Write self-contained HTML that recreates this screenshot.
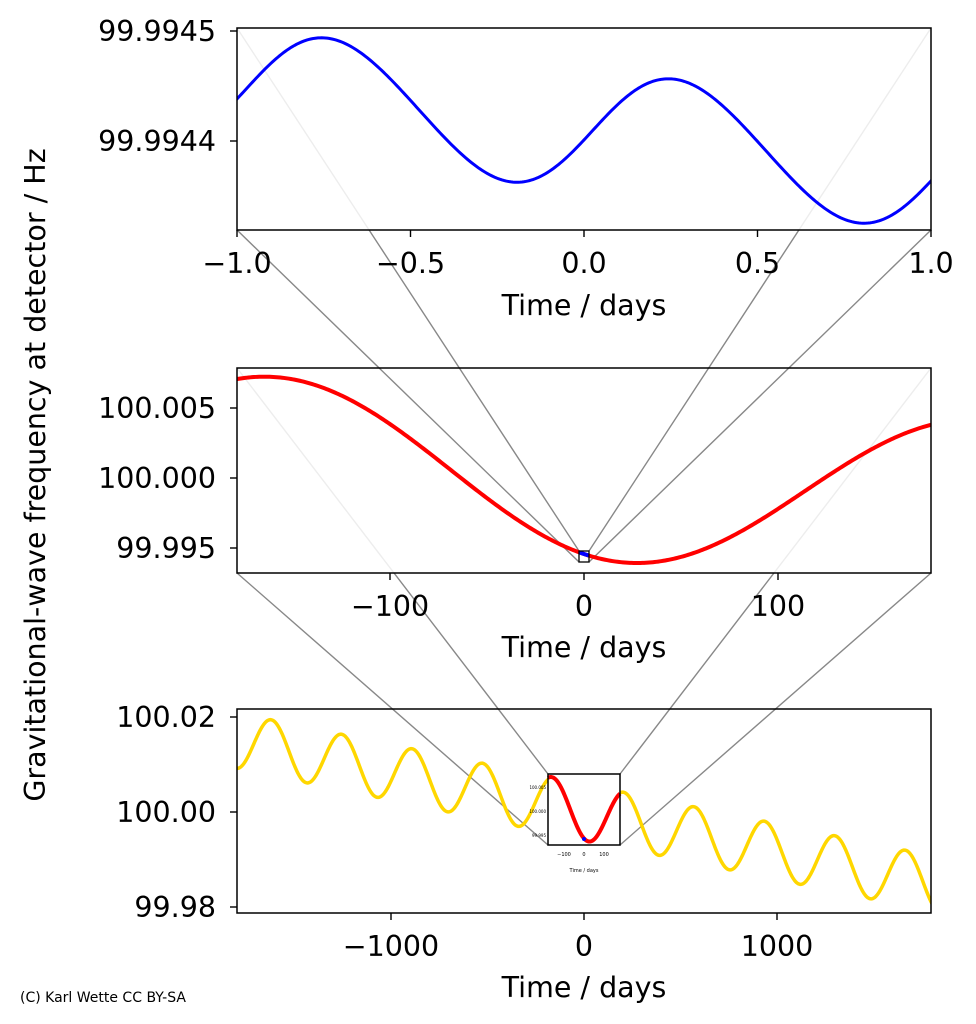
<!DOCTYPE html>
<html><head><meta charset="utf-8"><style>
html,body{margin:0;padding:0;background:#fff}
svg{display:block}
text{font-family:"DejaVu Sans","Liberation Sans",sans-serif;fill:#000}
</style></head><body>
<svg id="s" width="976" height="1024" viewBox="0 0 976 1024" xmlns="http://www.w3.org/2000/svg">
<defs>
<clipPath id="c1"><rect x="237" y="28" width="694" height="202"/></clipPath>
<clipPath id="c2"><rect x="237" y="368" width="694" height="205"/></clipPath>
<clipPath id="c3"><rect x="237" y="709" width="694" height="204"/></clipPath>
</defs>
<rect width="976" height="1024" fill="#fff"/>
<g stroke="#888" stroke-width="1.4">
<line x1="237" y1="368" x2="548" y2="774"/>
<line x1="237" y1="573" x2="548" y2="845"/>
<line x1="931" y1="368" x2="620" y2="774"/>
<line x1="931" y1="573" x2="620" y2="845"/>
</g>
<rect x="237" y="368" width="694" height="205" fill="#fff" opacity="0.85"/>
<g stroke="#888" stroke-width="1.4">
<line x1="237" y1="28" x2="579" y2="551"/>
<line x1="237" y1="230" x2="579" y2="562"/>
<line x1="931" y1="28" x2="589" y2="551"/>
<line x1="931" y1="230" x2="589" y2="562"/>
</g>
<rect x="237" y="28" width="694" height="202" fill="#fff" opacity="0.85"/>

<path id="p1" clip-path="url(#c1)" fill="none" stroke="#0000ff" stroke-width="3"/>
<path id="p2" clip-path="url(#c2)" fill="none" stroke="#ff0000" stroke-width="4"/>
<path id="p3" clip-path="url(#c3)" fill="none" stroke="#ffd700" stroke-width="3.5"/>

<path id="p2b" fill="none" stroke="#0000ff" stroke-width="4"/>
<rect x="579" y="551" width="10" height="11" fill="none" stroke="#000" stroke-width="1.3"/>

<rect x="548" y="774" width="72" height="71" fill="#fff"/>
<g transform="translate(548,774) scale(0.10375,0.3463) translate(-237,-368)">
<path id="p4" fill="none" stroke="#ff0000" stroke-width="4" vector-effect="non-scaling-stroke"/>
</g>
<circle cx="584" cy="839" r="2" fill="#0000ff"/>
<rect x="548" y="774" width="72" height="71" fill="none" stroke="#000" stroke-width="1.5"/>
<g font-size="5" fill="#333">
<text x="546" y="789" text-anchor="end" font-size="4">100.005</text>
<text x="546" y="813" text-anchor="end" font-size="4">100.000</text>
<text x="546" y="837" text-anchor="end" font-size="4">99.995</text>
<text x="564" y="856" text-anchor="middle">−100</text>
<text x="584" y="856" text-anchor="middle">0</text>
<text x="604" y="856" text-anchor="middle">100</text>
<text x="584" y="872" text-anchor="middle">Time / days</text>
</g>

<g fill="none" stroke="#000" stroke-width="1.5">
<rect x="237" y="28" width="694" height="202"/>
<rect x="237" y="368" width="694" height="205"/>
<rect x="237" y="709" width="694" height="204"/>
</g>
<g stroke="#000" stroke-width="1.4">
<line x1="230" y1="31" x2="237" y2="31"/><line x1="230" y1="141" x2="237" y2="141"/>
<line x1="237" y1="230" x2="237" y2="237"/><line x1="410.5" y1="230" x2="410.5" y2="237"/>
<line x1="584" y1="230" x2="584" y2="237"/><line x1="757.5" y1="230" x2="757.5" y2="237"/>
<line x1="931" y1="230" x2="931" y2="237"/>
<line x1="230" y1="408" x2="237" y2="408"/><line x1="230" y1="478" x2="237" y2="478"/><line x1="230" y1="548" x2="237" y2="548"/>
<line x1="390" y1="573" x2="390" y2="580"/><line x1="584" y1="573" x2="584" y2="580"/><line x1="778" y1="573" x2="778" y2="580"/>
<line x1="230" y1="717" x2="237" y2="717"/><line x1="230" y1="812" x2="237" y2="812"/><line x1="230" y1="907" x2="237" y2="907"/>
<line x1="391" y1="913" x2="391" y2="920"/><line x1="584" y1="913" x2="584" y2="920"/><line x1="777" y1="913" x2="777" y2="920"/>
</g>
<g font-size="28.5">
<text x="216" y="41" text-anchor="end">99.9945</text>
<text x="216" y="151" text-anchor="end">99.9944</text>
<text x="237" y="273" text-anchor="middle">−1.0</text>
<text x="410.5" y="273" text-anchor="middle">−0.5</text>
<text x="584" y="273" text-anchor="middle">0.0</text>
<text x="757.5" y="273" text-anchor="middle">0.5</text>
<text x="931" y="273" text-anchor="middle">1.0</text>
<text x="584" y="315" text-anchor="middle">Time / days</text>

<text x="216" y="418" text-anchor="end">100.005</text>
<text x="216" y="488" text-anchor="end">100.000</text>
<text x="216" y="558" text-anchor="end">99.995</text>
<text x="390" y="616" text-anchor="middle">−100</text>
<text x="584" y="616" text-anchor="middle">0</text>
<text x="778" y="616" text-anchor="middle">100</text>
<text x="584" y="657" text-anchor="middle">Time / days</text>

<text x="216" y="727" text-anchor="end">100.02</text>
<text x="216" y="822" text-anchor="end">100.00</text>
<text x="216" y="917" text-anchor="end">99.98</text>
<text x="391" y="956" text-anchor="middle">−1000</text>
<text x="584" y="956" text-anchor="middle">0</text>
<text x="777" y="956" text-anchor="middle">1000</text>
<text x="584" y="997" text-anchor="middle">Time / days</text>

<text transform="translate(45,475) rotate(-90)" text-anchor="middle">Gravitational-wave frequency at detector / Hz</text>
</g>
<text x="20" y="1002" font-size="14">(C) Karl Wette CC BY-SA</text>
</svg>
<script>
(function(){
var P=Math.PI;
function mk(f,t0,t1,n){var d="";for(var i=0;i<=n;i++){var t=t0+(t1-t0)*i/n;var p=f(t);d+=(i?"L":"M")+p[0].toFixed(2)+" "+p[1].toFixed(2);}return d;}
function fTop(t){return [584+347*t,129.5+41*t-60.7*Math.cos(2*P*(t-0.275))+3*Math.sin(4*P*(t-0.275))];}
function fMid(t){return [584+1.94*t,477.9+0.117*t-82.2*Math.cos(2*P*(t+160)/365)];}
function fBot(t){return [584+0.193*t,812+0.0397*t-27.9*Math.cos(2*P*(t+160)/365)];}
document.getElementById("p1").setAttribute("d",mk(fTop,-1.05,1.05,400));
document.getElementById("p2").setAttribute("d",mk(fMid,-182,182,400));
document.getElementById("p3").setAttribute("d",mk(fBot,-1820,1820,800));
document.getElementById("p4").setAttribute("d",mk(fMid,-179,179,200));
document.getElementById("p2b").setAttribute("d",mk(fMid,-2.5,2.5,10));
})();
</script>
</body></html>
